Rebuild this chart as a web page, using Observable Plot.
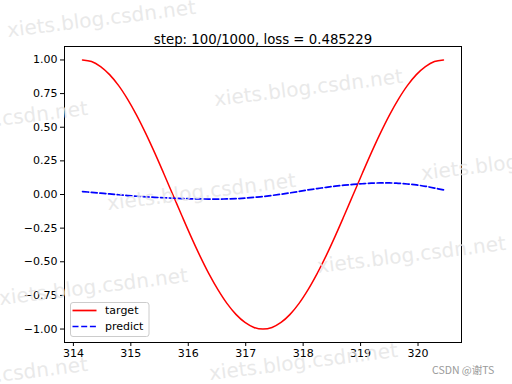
<!DOCTYPE html>
<html>
<head>
<meta charset="utf-8">
<script src="https://cdn.jsdelivr.net/npm/d3@7"></script>
<script src="https://cdn.jsdelivr.net/npm/@observablehq/plot@0.6"></script>
<style>
  html, body { margin: 0; padding: 0; background: white; }
</style>
</head>
<body>
<div id="chart"></div>
<script>
const titleText = "step: 100/1000, loss = 0.485229";
const xs = [314.159, 314.316, 314.473, 314.630, 314.788, 314.945, 315.102, 315.259, 315.416, 315.573, 315.730, 315.887, 316.044, 316.201, 316.358, 316.516, 316.673, 316.830, 316.987, 317.144, 317.301, 317.458, 317.615, 317.772, 317.929, 318.086, 318.243, 318.401, 318.558, 318.715, 318.872, 319.029, 319.186, 319.343, 319.500, 319.657, 319.814, 319.971, 320.129, 320.286, 320.443];
const target = [1.000, 0.988, 0.951, 0.891, 0.809, 0.707, 0.588, 0.454, 0.309, 0.156, 0.000, -0.156, -0.309, -0.454, -0.588, -0.707, -0.809, -0.891, -0.951, -0.988, -1.000, -0.988, -0.951, -0.891, -0.809, -0.707, -0.588, -0.454, -0.309, -0.156, 0.000, 0.156, 0.309, 0.454, 0.588, 0.707, 0.809, 0.891, 0.951, 0.988, 1.000];
const predict = [0.022, 0.016, 0.010, 0.004, -0.002, -0.008, -0.013, -0.017, -0.021, -0.024, -0.027, -0.030, -0.032, -0.033, -0.034, -0.034, -0.033, -0.031, -0.027, -0.021, -0.015, -0.007, 0.002, 0.012, 0.023, 0.034, 0.044, 0.053, 0.062, 0.069, 0.075, 0.080, 0.084, 0.086, 0.086, 0.083, 0.078, 0.071, 0.061, 0.048, 0.034];
const xTicks = [314, 315, 316, 317, 318, 319, 320];
const yTicks = [-1.00, -0.75, -0.50, -0.25, 0.00, 0.25, 0.50, 0.75, 1.00];
const seriesNames = ["target", "predict"];
const watermark = "xiets.blog.csdn.net";
const credit = "CSDN @谢TS";

const data = xs.map((x, i) => ({x, target: target[i], predict: predict[i]}));
const fmt = d3.format(".2f");

const chart = Plot.plot({
  width: 512,
  height: 384,
  marginLeft: 64,
  marginRight: 51,
  marginTop: 46,
  marginBottom: 42,
  style: {fontFamily: "DejaVu Sans", fontSize: "11px", color: "black", background: "white"},
  x: {domain: [313.845, 320.757], label: null},
  y: {domain: [-1.1, 1.1], label: null},
  marks: [
    Plot.line(data, {x: "x", y: "target", stroke: "#ff0000", strokeWidth: 1.5, curve: "catmull-rom"}),
    Plot.line(data, {x: "x", y: "predict", stroke: "#0000ff", strokeWidth: 1.7, strokeDasharray: "6,2.7", curve: "catmull-rom"}),
    Plot.frame({stroke: "black", strokeWidth: 1}),
    Plot.axisX({ticks: xTicks, tickFormat: d => String(d), tickSize: 4, tickPadding: 3, fontSize: 11, label: null}),
    Plot.axisY({ticks: yTicks, tickFormat: d => fmt(d).replace("-", "\u2212"), tickSize: 4, tickPadding: 3, fontSize: 11, label: null}),
    Plot.text([titleText], {frameAnchor: "top", dy: -12, fontSize: 13.3, fill: "black"})
  ]
});
document.getElementById("chart").appendChild(chart);

const svg = d3.select(chart);

// watermarks
const wm = svg.append("g").attr("font-family", "DejaVu Sans").attr("font-size", 20)
  .attr("fill", "#e4e4e4").attr("fill-opacity", 0.8).attr("text-anchor", "start");
const wmPos = [[8, 37], [215, 106], [-100, 138], [108, 210], [422, 180], [318, 273], [0, 305], [-100, 394], [210, 380]];
wmPos.forEach(([x, y]) => {
  wm.append("text").attr("transform", `translate(${x},${y}) rotate(-7)`).text(watermark);
});

// legend
const lg = svg.append("g").attr("font-family", "DejaVu Sans").attr("font-size", 11).attr("text-anchor", "start");
lg.append("rect").attr("x", 70.5).attr("y", 302.5).attr("width", 78.5).attr("height", 34)
  .attr("rx", 2.5).attr("fill", "white").attr("fill-opacity", 0.8).attr("stroke", "#cccccc");
const styles = [{stroke: "#ff0000", dash: null}, {stroke: "#0000ff", dash: "6,2.7"}];
seriesNames.forEach((name, i) => {
  const y = 310.5 + i * 16;
  lg.append("line").attr("x1", 72.5).attr("x2", 96.5).attr("y1", y).attr("y2", y)
    .attr("stroke", styles[i].stroke).attr("stroke-width", 1.7)
    .attr("stroke-dasharray", styles[i].dash);
  lg.append("text").attr("x", 105).attr("y", y).attr("dy", "0.35em").attr("fill", "black").text(name);
});

svg.append("text").attr("x", 432).attr("y", 374).attr("text-anchor", "start").attr("font-family", "Noto Sans CJK SC")
  .attr("font-size", 10.5).attr("fill", "#9a9a9a").text(credit);
</script>
</body>
</html>
